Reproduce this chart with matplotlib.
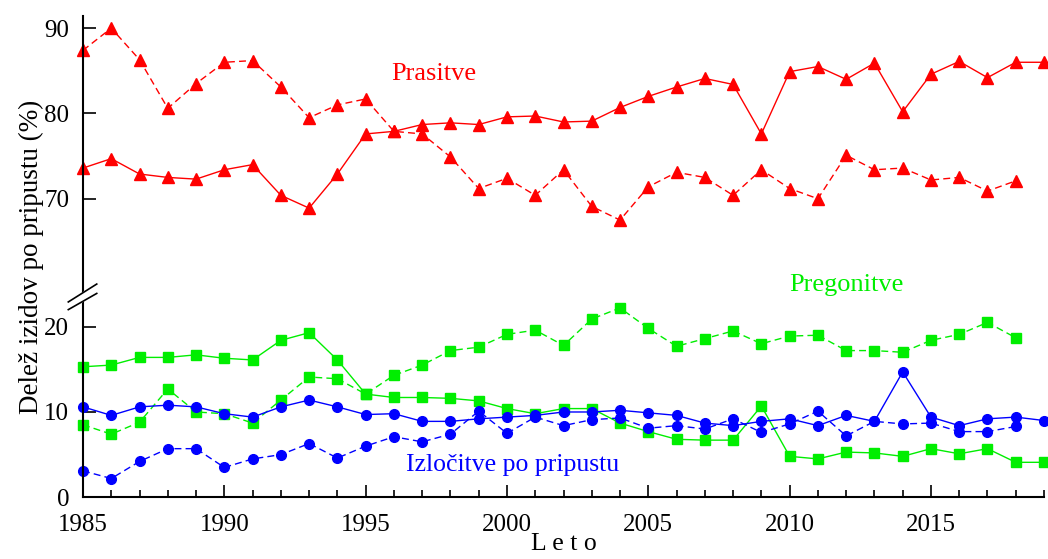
import matplotlib
matplotlib.use('Agg')
import matplotlib.pyplot as plt
import matplotlib.transforms as mtransforms
import numpy as np

years = list(range(1985, 2020))

# Prasitve (red triangles)
prasitve_solid = [73.6, 74.7, 72.9, 72.5, 72.3, 73.4, 74.0, 70.4, 68.9, 72.9,
                  77.6, 77.9, 78.7, 78.9, 78.7, 79.6, 79.7, 79.0, 79.1, 80.7,
                  82.0, 83.1, 84.1, 83.4, 77.6, 84.9, 85.5, 84.0, 85.9, 80.2,
                  84.6, 86.1, 84.2, 86.0, 86.0]
prasitve_dashed = [87.4, 90.0, 86.3, 80.6, 83.5, 86.0, 86.2, 83.1, 79.5, 81.0,
                   81.7, 77.9, 77.6, 74.9, 71.2, 72.4, 70.4, 73.4, 69.1, 67.5,
                   71.4, 73.1, 72.5, 70.4, 73.4, 71.2, 70.0, 75.1, 73.4, 73.6,
                   72.2, 72.5, 70.9, 72.1]

# Pregonitve (green squares)
pregonitve_solid = [15.3, 15.5, 16.4, 16.4, 16.7, 16.3, 16.1, 18.4, 19.3, 16.1,
                    12.1, 11.7, 11.7, 11.6, 11.3, 10.4, 9.8, 10.4, 10.4, 8.7,
                    7.7, 6.8, 6.7, 6.7, 10.7, 4.8, 4.5, 5.3, 5.2, 4.8,
                    5.7, 5.1, 5.7, 4.1, 4.1]
pregonitve_dashed = [8.5, 7.4, 8.8, 12.7, 10.0, 9.8, 8.7, 11.4, 14.1, 13.9,
                     12.1, 14.3, 15.5, 17.2, 17.6, 19.1, 19.6, 17.8, 20.9, 22.2,
                     19.8, 17.7, 18.6, 19.5, 18.0, 18.9, 19.0, 17.2, 17.2, 17.0,
                     18.4, 19.1, 20.5, 18.7]

# Izlocitve po pripustu (blue circles)
izlocitve_solid = [10.6, 9.6, 10.6, 10.8, 10.6, 9.8, 9.4, 10.6, 11.4, 10.6,
                   9.7, 9.8, 8.9, 8.9, 9.2, 9.4, 9.6, 10.0, 10.0, 10.2,
                   9.9, 9.6, 8.7, 8.4, 8.9, 9.2, 8.4, 9.6, 8.9, 14.7,
                   9.4, 8.4, 9.2, 9.4, 9.0]
izlocitve_dashed = [3.1, 2.2, 4.2, 5.7, 5.7, 3.5, 4.5, 5.0, 6.3, 4.6,
                    6.0, 7.1, 6.5, 7.4, 10.1, 7.5, 9.4, 8.4, 9.1, 9.3,
                    8.1, 8.4, 8.0, 9.2, 7.6, 8.6, 10.1, 7.2, 8.9, 8.6,
                    8.7, 7.7, 7.7, 8.3]

ytick_values = [0, 10, 20, 70, 80, 90]
OFFSET = 35  # values above the break are shifted down by this much


def brk(vals):
    return [v - OFFSET if v >= 50 else v for v in vals]


plt.rcParams['font.family'] = ['Liberation Serif', 'DejaVu Serif']
plt.rcParams['font.size'] = 18

fig = plt.figure(figsize=(10.48, 5.59), dpi=100)
ax = fig.add_axes([0.0792, 0.1104, 0.9170, 0.8606])

RED = '#ff0000'
GREEN = '#00ee00'
BLUE = '#0000ff'
lw = 1.0
dash = (0, (5, 3))

ax.plot(years, brk(prasitve_solid), color=RED, lw=lw, marker='^', ms=8, clip_on=False)
ax.plot(years[:len(prasitve_dashed)], brk(prasitve_dashed), color=RED, lw=lw,
        ls=dash, marker='^', ms=8, clip_on=False)
ax.plot(years, pregonitve_solid, color=GREEN, lw=lw, marker='s', ms=7, clip_on=False)
ax.plot(years[:len(pregonitve_dashed)], pregonitve_dashed, color=GREEN, lw=lw,
        ls=dash, marker='s', ms=7, clip_on=False)
ax.plot(years, izlocitve_solid, color=BLUE, lw=lw, marker='o', ms=7, clip_on=False)
ax.plot(years[:len(izlocitve_dashed)], izlocitve_dashed, color=BLUE, lw=lw,
        ls=dash, marker='o', ms=7, clip_on=False)

ax.set_xlim(1985, 2019)
ax.set_ylim(0, 56.4)
ax.set_xticks(range(1985, 2020, 5))
ax.set_xticks(range(1985, 2020), minor=True)
ax.set_yticks(brk(ytick_values))
ax.set_yticklabels([str(v) for v in ytick_values])

for s in ['top', 'right']:
    ax.spines[s].set_visible(False)
for s in ['left', 'bottom']:
    ax.spines[s].set_linewidth(1.5)
ax.tick_params(axis='both', which='major', direction='in', length=9, width=1.2, pad=10)
ax.tick_params(axis='x', which='major', pad=12)
ax.tick_params(axis='x', which='minor', direction='in', length=5, width=1.2)

ax.set_ylabel('Delež izidov po pripustu (%)', fontsize=19.5, labelpad=0)
ax.set_xlabel('L e t o', fontsize=18.5, labelpad=-2)

ax.text(1997.4, 49.6, 'Prasitve', color=RED, ha='center', va='center', fontsize=19)
ax.text(2012.0, 24.9, 'Pregonitve', color=GREEN, ha='center', va='center', fontsize=19)
ax.text(2000.2, 3.8, 'Izločitve po pripustu', color=BLUE, ha='center', va='center', fontsize=18.5)

# axis break mark
trans = mtransforms.blended_transform_factory(ax.transAxes, ax.transData)
bx = [-0.0153, 0.0143]
ax.fill([bx[0], bx[1], bx[1], bx[0]], [22.9, 25.0, 23.9, 22.0], color='white',
        transform=trans, clip_on=False, zorder=5)
ax.plot(bx, [22.9, 25.0], color='black', lw=1.2, transform=trans, clip_on=False, zorder=6)
ax.plot(bx, [22.0, 23.9], color='black', lw=1.2, transform=trans, clip_on=False, zorder=6)

fig.savefig('out.png', dpi=100)
